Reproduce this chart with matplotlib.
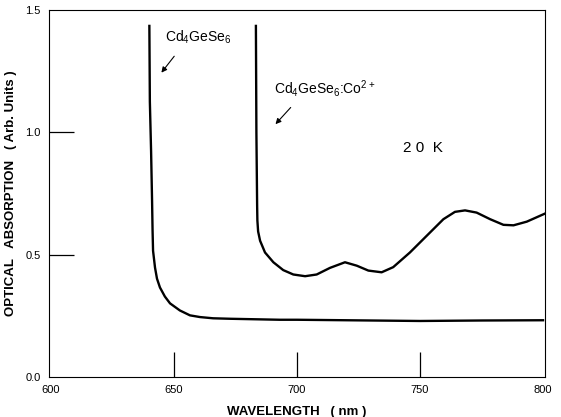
import matplotlib
matplotlib.use("Agg")
import matplotlib.pyplot as plt

plt.rcParams["font.family"] = ["Liberation Sans", "DejaVu Sans"]

# Cd4GeSe6 (undoped) absorption edge
wl_pure = [640.0, 640.2, 640.7, 641.1, 641.3, 641.5, 642.3, 643.1, 644.3,
           646.3, 648.4, 652.4, 656.5, 660.6, 665.9, 673.0, 683.0, 693.0,
           700.0, 720.0, 750.0, 775.0, 800.0]
abs_pure = [1.435, 1.126, 0.923, 0.72, 0.60, 0.516, 0.447, 0.402, 0.366,
            0.329, 0.301, 0.272, 0.252, 0.245, 0.240, 0.238, 0.236, 0.234,
            0.234, 0.232, 0.229, 0.231, 0.232]

# Cd4GeSe6:Co2+ absorption
wl_co = [683.3, 683.5, 683.7, 683.8, 683.9, 684.2, 685.0, 687.0, 690.4,
         694.4, 698.5, 703.3, 708.0, 713.4, 719.5, 724.3, 729.0, 734.4,
         739.1, 745.9, 752.7, 759.5, 764.2, 768.3, 773.0, 778.5, 783.9,
         788.0, 793.4, 800.8]
abs_co = [1.435, 1.0, 0.80, 0.70, 0.64, 0.595, 0.557, 0.509, 0.469,
          0.437, 0.419, 0.412, 0.419, 0.446, 0.469, 0.455, 0.435, 0.428,
          0.449, 0.509, 0.577, 0.645, 0.675, 0.681, 0.672, 0.645, 0.622,
          0.620, 0.635, 0.668]

xticks = [600, 650, 700, 750, 800]
yticks = [0.0, 0.5, 1.0, 1.5]
xmarks = [650, 700, 750]
ymarks = [0.5, 1.0]

fig = plt.figure(figsize=(5.61, 4.17), dpi=100)
ax = fig.add_axes([0.0873, 0.0959, 0.8842, 0.8801])

ax.plot(wl_pure, abs_pure, color="black", lw=1.7)
ax.plot(wl_co, abs_co, color="black", lw=1.7)

ax.set_xlim(599.2, 800.8)
ax.set_ylim(0, 1.49)
# labels on major ticks, visible tick marks on minor ones
ax.set_xticks(xticks)
ax.set_yticks(yticks)
ax.set_xticklabels([str(t) for t in xticks])
ax.set_yticklabels(["%.1f" % t for t in yticks])
ax.xaxis.remove_overlapping_locs = False
ax.yaxis.remove_overlapping_locs = False
ax.set_xticks(xmarks, minor=True)
ax.set_yticks(ymarks, minor=True)
ax.tick_params(axis="both", which="major", length=0, labelsize=8, pad=6)
ax.tick_params(axis="both", which="minor", direction="in", length=18, width=0.9)
for s in ax.spines.values():
    s.set_linewidth(0.8)

ax.set_xlabel("WAVELENGTH   ( nm )", fontsize=9.5, fontweight="bold", labelpad=8)
ax.set_ylabel("OPTICAL   ABSORPTION   ( Arb. Units )", fontsize=9.5,
              fontweight="bold", labelpad=6)

# annotations
ax.text(646.5, 1.39, r"Cd$_\mathregular{4}$GeSe$_\mathregular{6}$", fontsize=10,
        va="center", ha="left")
ax.annotate("", xy=(644.2, 1.235), xytext=(650.8, 1.32),
            arrowprops=dict(arrowstyle="-|>", color="black", lw=0.8,
                            mutation_scale=8))
ax.text(690.5, 1.178,
        r"Cd$_\mathregular{4}$GeSe$_\mathregular{6}$:Co$^\mathregular{2+}$",
        fontsize=10, va="center", ha="left")
ax.annotate("", xy=(690.5, 1.025), xytext=(698.2, 1.11),
            arrowprops=dict(arrowstyle="-|>", color="black", lw=0.8,
                            mutation_scale=8))
ax.text(751, 0.935, "2 0  K", fontsize=11, va="center", ha="center")

fig.savefig("out.png", dpi=100)
